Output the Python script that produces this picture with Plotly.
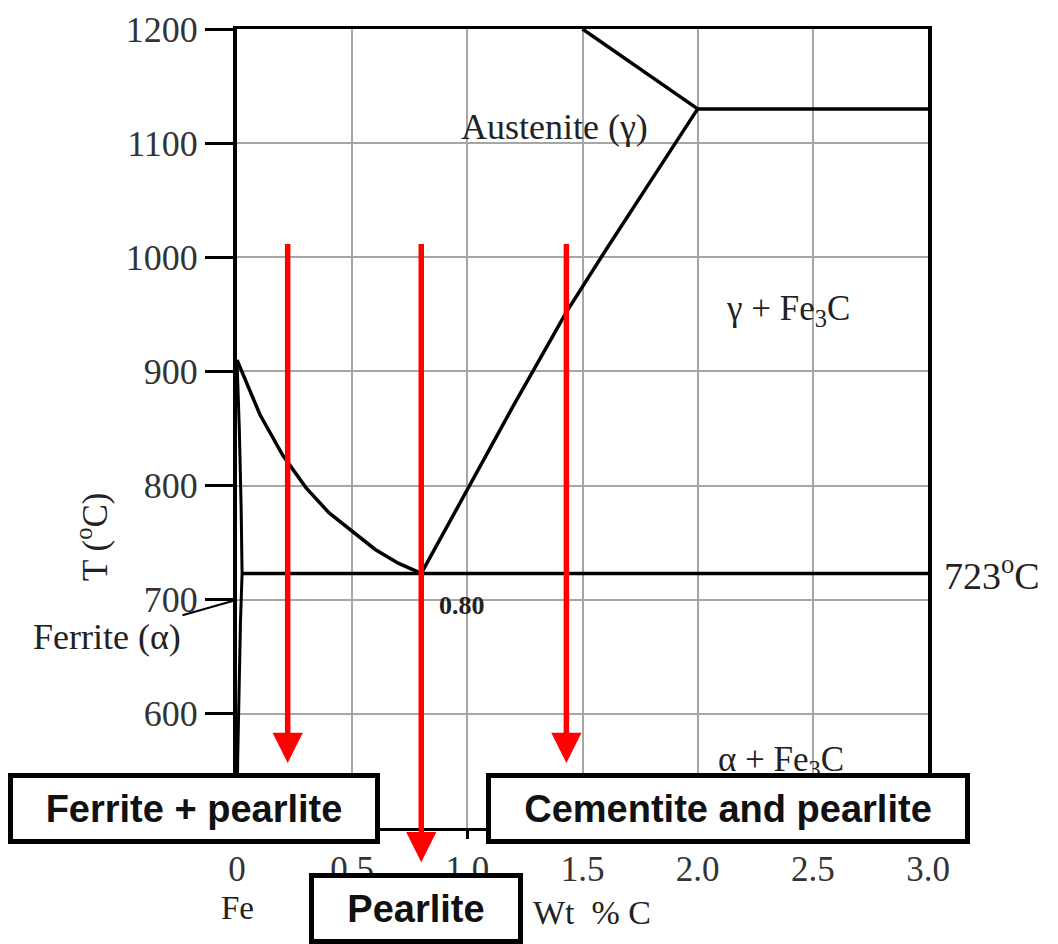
import plotly.graph_objects as go

# ---- data ----
x_ticks = [0, 0.5, 1.0, 1.5, 2.0, 2.5, 3.0]
x_tick_labels = ["0", "0.5", "1.0", "1.5", "2.0", "2.5", "3.0"]
y_ticks = [600, 700, 800, 900, 1000, 1100, 1200]

a3_x = [0, 0.1, 0.2, 0.3, 0.4, 0.5, 0.6, 0.7, 0.8]
a3_T = [910, 862, 826, 798, 776, 760, 744, 732, 723]

acm_x = [0.8, 1.0, 1.2, 1.43, 1.6, 1.8, 2.0]
acm_T = [723, 797, 870, 952, 1006, 1068, 1130]

liq_x = [1.5, 2.0]
liq_T = [1200, 1130]

eutectic_x = [2.0, 3.0]
eutectic_T = [1130, 1130]

eutectoid_x = [0.022, 3.0]
eutectoid_T = [723, 723]

solvus_x = [0, 0.01, 0.018, 0.022, 0.015, 0.008, 0.003, 0]
solvus_T = [910, 850, 780, 723, 680, 620, 560, 500]

arrow_x = [0.22, 0.80, 1.43]
arrow_top = [1013, 1013, 1013]
arrow_tip = [557, 470, 557]

box_labels = ["Ferrite + pearlite", "Cementite and pearlite", "Pearlite"]

SERIF = "Liberation Serif, Times New Roman, serif"
SANS = "Liberation Sans, Arial, sans-serif"
TXT = "#222222"

# page body margin offset
OFF = 8
W, H = 1058 - OFF, 944 - OFF
# reference plot-area pixel bounds
plot_l, plot_r, plot_t, plot_b = 237, 928, 29, 828


def px_x(p):
    return (p - plot_l) / (plot_r - plot_l)


def px_y(p):
    return (plot_b - p) / (plot_b - plot_t)


fig = go.Figure()
line_style = dict(color="black", width=3.5)
for xs, ys in [(a3_x, a3_T), (acm_x, acm_T), (liq_x, liq_T),
               (eutectic_x, eutectic_T), (eutectoid_x, eutectoid_T)]:
    fig.add_trace(go.Scatter(x=xs, y=ys, mode="lines", line=line_style,
                             hoverinfo="skip", showlegend=False))
fig.add_trace(go.Scatter(x=solvus_x, y=solvus_T, mode="lines",
                         line=dict(color="black", width=3),
                         hoverinfo="skip", showlegend=False))

annotations = []
# red arrows
for xa, top, tip in zip(arrow_x, arrow_top, arrow_tip):
    annotations.append(dict(x=xa, y=tip, ax=xa, ay=top, axref="x", ayref="y",
                            xref="x", yref="y", text="", showarrow=True,
                            arrowhead=2, arrowsize=1.1, arrowwidth=5.5,
                            arrowcolor="#ff0000"))

# phase labels
annotations += [
    dict(x=1.38, y=1114, xref="x", yref="y", text="Austenite (γ)", showarrow=False,
         font=dict(family=SERIF, size=36, color=TXT)),
    dict(x=2.39, y=953, xref="x", yref="y", text="γ + Fe<sub>3</sub>C", showarrow=False,
         font=dict(family=SERIF, size=35, color=TXT)),
    dict(x=2.36, y=558, xref="x", yref="y", text="α + Fe<sub>3</sub>C", showarrow=False,
         font=dict(family=SERIF, size=35, color=TXT)),
    dict(x=0.87, y=695, xref="x", yref="y", text="<b>0.80</b>", showarrow=False,
         xanchor="left", font=dict(family=SERIF, size=26, color=TXT)),
    dict(x=px_x(942), y=723, xref="paper", yref="y", text="723<sup>o</sup>C",
         showarrow=False, xanchor="left", yanchor="middle",
         font=dict(family=SERIF, size=38, color=TXT)),
    dict(x=0, y=700, xref="x", yref="y", text="Ferrite (α)", showarrow=True,
         arrowhead=0, arrowwidth=2, arrowcolor="black", ax=-130, ay=37,
         font=dict(family=SERIF, size=36, color=TXT)),
    dict(x=px_x(92), y=px_y(537), xref="paper", yref="paper", text="T (<sup>o</sup>C)",
         showarrow=False, textangle=-90, xanchor="center", yanchor="middle",
         font=dict(family=SERIF, size=35, color=TXT)),
    dict(x=0, y=px_y(908), xref="x", yref="paper", text="Fe", showarrow=False,
         xanchor="center", yanchor="middle", font=dict(family=SERIF, size=33, color=TXT)),
    dict(x=px_x(592), y=px_y(912), xref="paper", yref="paper", text="Wt  % C",
         showarrow=False, xanchor="center", yanchor="middle",
         font=dict(family=SERIF, size=34, color=TXT)),
]

# boxed labels (reference pixel centers converted to paper coords)
box_px = [(194, 808.5, 362, 61), (728, 808.5, 474, 61), (416, 908.5, 204, 61)]
for label, (cx, cy, bw, bh) in zip(box_labels, box_px):
    annotations.append(dict(
        x=px_x(cx), y=px_y(cy),
        xref="paper", yref="paper", text="<b>" + label + "</b>", showarrow=False,
        xanchor="center", yanchor="middle", width=bw, height=bh,
        bgcolor="white", bordercolor="black", borderwidth=5, borderpad=0,
        font=dict(family=SANS, size=38, color="#111111")))

fig.update_layout(
    width=W, height=H, autosize=False,
    margin=dict(l=plot_l - OFF, r=W - (plot_r - OFF), t=plot_t - OFF,
                b=H - (plot_b - OFF), autoexpand=False),
    paper_bgcolor="white", plot_bgcolor="white",
    showlegend=False, annotations=annotations,
    xaxis=dict(range=[0, 3], tickvals=x_ticks, ticktext=x_tick_labels,
               automargin=False,
               showgrid=True, gridcolor="#a6a6a6", gridwidth=2,
               showline=True, linecolor="black", linewidth=3, mirror=True,
               ticks="outside", ticklen=8, tickwidth=3, tickcolor="black",
               zeroline=False,
               tickfont=dict(family=SERIF, size=35, color="#333333")),
    yaxis=dict(range=[500, 1200], tickvals=y_ticks,
               automargin=False,
               showgrid=True, gridcolor="#a6a6a6", gridwidth=2,
               showline=True, linecolor="black", linewidth=4, mirror=True,
               ticks="outside", ticklen=28, tickwidth=3, tickcolor="black",
               zeroline=False,
               tickfont=dict(family=SERIF, size=36, color="#333333")),
)

fig.write_html("out.html")
